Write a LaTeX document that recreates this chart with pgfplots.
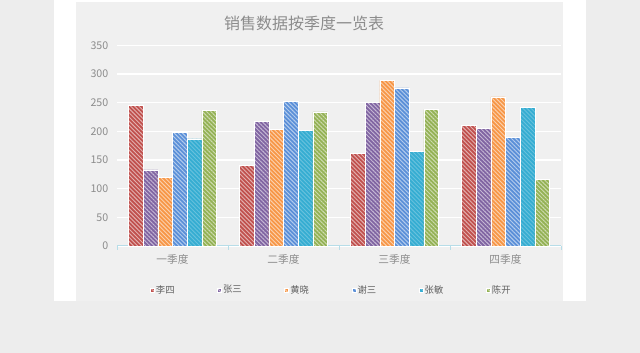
\documentclass[border=0pt]{standalone}
\usepackage{fontspec}
\setmainfont{Noto Sans CJK SC}
\usepackage{pgfplots}
\pgfplotsset{compat=1.18}
\usetikzlibrary{patterns.meta}
\definecolor{bgout}{HTML}{EDEDED}
\definecolor{bgchart}{HTML}{F0F0F0}
\definecolor{txtgray}{HTML}{8C8C8C}
\definecolor{leggray}{HTML}{606060}
\definecolor{axiscol}{HTML}{B7DDE8}
\definecolor{cA}{HTML}{C0504D}
\definecolor{cB}{HTML}{8064A2}
\definecolor{cC}{HTML}{F79646}
\definecolor{cD}{HTML}{5A8FD8}
\definecolor{cE}{HTML}{35ADD2}
\definecolor{cF}{HTML}{94B254}
\pgfplotsset{
  hatch/.style={fill=#1, draw=white, line width=0.4pt,
    postaction={pattern={Lines[angle=-45,distance=2.2pt,line width=0.7pt]}, pattern color=#1!45!white}},
  hatchsoft/.style={fill=#1, draw=white, line width=0.4pt,
    postaction={pattern={Lines[angle=-45,distance=2.2pt,line width=0.7pt]}, pattern color=#1!75!white}},
}
\begin{document}
\begin{tikzpicture}[x=0.75pt,y=0.75pt]
\fill[bgout] (0,0) rectangle (640,353);
\fill[white] (54,52) rectangle (586,353);
\fill[bgchart] (76,52) rectangle (563,351);
\node[text=txtgray, font=\fontsize{12}{14}\selectfont] at (304,330) {销售数据按季度一览表};
\begin{axis}[
  at={(87.75pt,80.25pt)}, anchor=south west,
  scale only axis, width=333pt, height=150.45pt,
  ymin=0, ymax=350, ytick={0,50,...,350},
  xmin=-0.5, xmax=3.5, xtick={0,1,2,3},
  xticklabels={一季度,二季度,三季度,四季度},
  enlargelimits=false,
  axis x line*=bottom, axis y line*=left,
  y axis line style={draw=none},
  x axis line style={draw=axiscol, line width=0.75pt, -},
  tick style={draw=axiscol, line width=0.6pt},
  ytick style={draw=none},
  major tick length=0pt,
  extra x ticks={-0.5,0.5,1.5,2.5,3.5},
  extra x tick labels={},
  extra x tick style={major tick length=3pt, tick align=outside, grid=none},
  ymajorgrids, y grid style={white, line width=1pt},
  /pgf/number format/assume math mode=true,
  ticklabel style={font=\fontsize{8}{9}\selectfont, text=txtgray},
  yticklabel style={xshift=-3pt},
  xticklabel style={yshift=-3pt},
  ybar=0pt, bar width=11pt,
  legend columns=6,
  legend cell align=left,
  legend image code/.code={\fill[#1,draw=none] (0pt,-1.5pt) rectangle (3pt,1.5pt);},
  legend style={at={(0.482,-0.22)}, anchor=center, draw=none, fill=none,
    font=\fontsize{7}{8}\selectfont, text=leggray,
    nodes={inner xsep=1pt},
    /tikz/every even column/.append style={column sep=31pt}},
]
\addplot[hatch=cA] coordinates {(0,245) (1,140) (2,162) (3,211)};
\addplot[hatch=cB] coordinates {(0,133) (1,218) (2,250) (3,205)};
\addplot[hatch=cC] coordinates {(0,120) (1,203) (2,289) (3,260)};
\addplot[hatch=cD] coordinates {(0,198) (1,252) (2,276) (3,190)};
\addplot[hatchsoft=cE] coordinates {(0,187) (1,202) (2,165) (3,242)};
\addplot[hatch=cF] coordinates {(0,236) (1,234) (2,238) (3,116)};
\legend{李四,张三,黄晓,谢三,张敏,陈开}
\end{axis}
\end{tikzpicture}
\end{document}
